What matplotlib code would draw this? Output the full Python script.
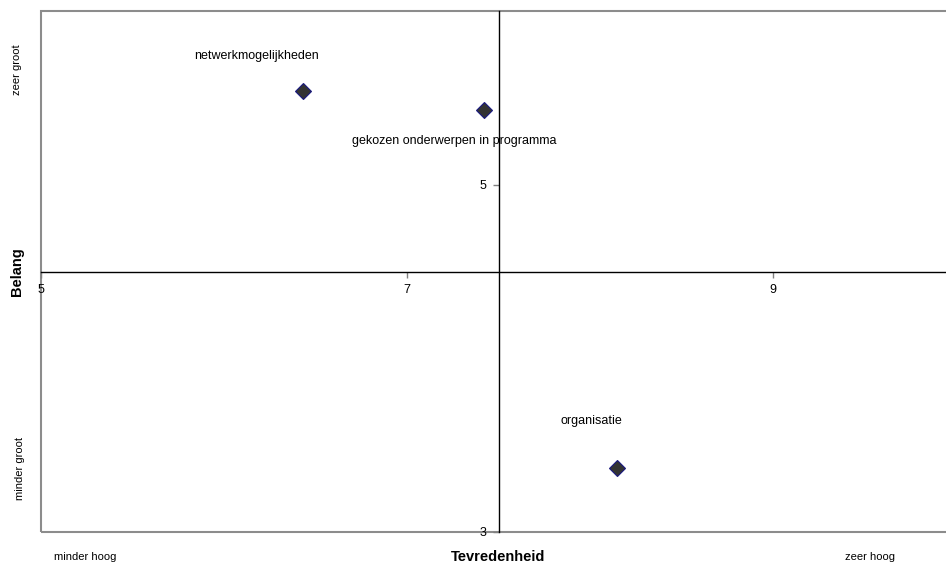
#!/usr/bin/env python3
"""Belang vs tevredenheid quadrant chart."""

import matplotlib.pyplot as plt
from matplotlib.patches import Rectangle

plt.rcParams["font.family"] = ["Liberation Sans", "DejaVu Sans"]

# data
labels = ["netwerkmogelijkheden", "gekozen onderwerpen in programma", "organisatie"]
tevredenheid = [6.43, 7.42, 8.15]
belang = [5.54, 5.43, 3.37]
label_offsets = [(-33, 25), (-95, -22), (-19, 34)]  # points, (dx, dy)
label_ha = ["center", "left", "center"]

x_ticks = [5, 7, 9]
y_ticks = [3, 5]
x_cross, y_cross = 7.5, 4.5

fig = plt.figure(figsize=(9.46, 5.67), dpi=100)
ax = fig.add_axes([41 / 946, 35 / 567, 915 / 946, 521 / 567])
ax.set_xlim(5, 10)
ax.set_ylim(3, 6)

# crossing axes
for side in ("top", "right"):
    ax.spines[side].set_visible(False)
ax.spines["left"].set_position(("data", x_cross))
ax.spines["bottom"].set_position(("data", y_cross))
ax.spines["left"].set_color("black")
ax.spines["bottom"].set_color("black")
ax.spines["left"].set_linewidth(1.0)
ax.spines["bottom"].set_linewidth(1.0)

# gray plot-area frame
ax.add_patch(Rectangle((0, 0), 1, 1, transform=ax.transAxes, fill=False,
                       edgecolor="#8c8c8c", linewidth=1.5, clip_on=False, zorder=0))

ax.set_xticks(x_ticks)
ax.set_yticks(y_ticks)
ax.tick_params(axis="both", direction="out", length=4, width=1,
               color="#808080", labelsize=9, pad=5)

ax.plot(tevredenheid, belang, linestyle="none", marker="D", ms=8,
        markerfacecolor="#333333", markeredgecolor="#1a1a80", markeredgewidth=0.8,
        zorder=3)

for name, x, y, off, ha in zip(labels, tevredenheid, belang, label_offsets, label_ha):
    ax.annotate(name, (x, y), xytext=off, textcoords="offset points",
                ha=ha, va="center", fontsize=9)

# outer captions
fig.text(17 / 946, 1 - 70 / 567, "zeer groot", rotation=90, ha="center", va="center", fontsize=8)
fig.text(17 / 946, 1 - 272 / 567, "Belang", rotation=90, ha="center", va="center",
         fontsize=10.5, fontweight="bold")
fig.text(20 / 946, 1 - 468 / 567, "minder groot", rotation=90, ha="center", va="center", fontsize=8)
fig.text(85 / 946, 1 - 557 / 567, "minder hoog", ha="center", va="center", fontsize=8)
fig.text(498 / 946, 1 - 557 / 567, "Tevredenheid", ha="center", va="center",
         fontsize=10.5, fontweight="bold")
fig.text(870 / 946, 1 - 557 / 567, "zeer hoog", ha="center", va="center", fontsize=8)

fig.savefig("out.png", dpi=100)
